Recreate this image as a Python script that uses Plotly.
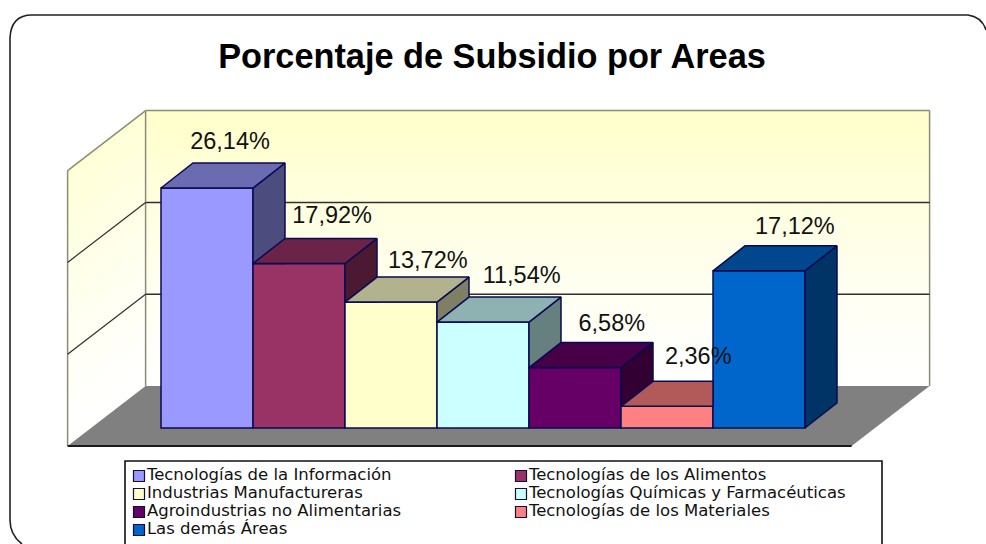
import plotly.graph_objects as go

# ---- data ----
categories = ["Tecnologías de la Información", "Tecnologías de los Alimentos",
              "Industrias Manufactureras", "Tecnologías Químicas y Farmacéuticas",
              "Agroindustrias no Alimentarias", "Tecnologías de los Materiales",
              "Las demás Áreas"]
values = [26.14, 17.92, 13.72, 11.54, 6.58, 2.36, 17.12]
labels = ["26,14%", "17,92%", "13,72%", "11,54%", "6,58%", "2,36%", "17,12%"]
colors = ["#9999FF", "#993366", "#FFFFCC", "#CCFFFF", "#660066", "#FF8080", "#0066CC"]
title_text = "Porcentaje de Subsidio por Areas"
grid_values = [10, 20, 30]

# ---- layout constants ----
W, H = 986, 544
PX_CAT, PX_PCT = 92.0, 9.18          # pixels per category / per percent
X0_PX, Y0_PX = 161.0, 428.0          # left edge of first bar, baseline
DX, DY = 32 / PX_CAT, 25 / PX_PCT    # bar depth in axis units
FLOOR_DX, FLOOR_DY = 78 / PX_CAT, 60 / PX_PCT  # full floor depth
FRONT_DX, FRONT_DY = 23.4 / PX_CAT, 18 / PX_PCT  # bars' set-back from the floor front
EDGE = "#0A0A50"
WALL_LINE = "#8C8C78"
GRID_LINE = "#303030"
label_nudge = [0.0, 0.11, 0.15, 0.17, 0.15, 0.09, 0.14]
label_lift = [4.9, 5.0, 4.4, 4.9, 4.6, 5.3, 4.7]


def px2x(p):
    return (p - X0_PX) / PX_CAT - 0.5


def py2y(p):
    return (Y0_PX - p) / PX_PCT


def shade(hex_color, f):
    r, g, b = (int(hex_color[i:i + 2], 16) for i in (1, 3, 5))
    return f"rgb({int(r * f)},{int(g * f)},{int(b * f)})"


def blend(t):
    """white (t=0) to pale yellow (t=1)"""
    return f"rgb(255,255,{int(255 - (255 - 204) * t)})"


# floor geometry
xl_front = -0.5 - 70 / PX_CAT - FRONT_DX
xr_front = xl_front + 784 / PX_CAT
y_front = -FRONT_DY
xl_back, xr_back = xl_front + FLOOR_DX, xr_front + FLOOR_DX
y_back = y_front + FLOOR_DY
top = max(grid_values)

shapes = []


def poly(pts):
    return "M" + "L".join(f"{x},{y}" for x, y in pts) + "Z"


# walls painted as thin gradient strips
N = 40
for k in range(N):
    a, b = top * k / N, top * (k + 1) / N
    t = ((k + 0.5) / N)
    shapes.append(dict(type="rect", layer="below", xref="x", yref="y",
                       x0=xl_back, x1=xr_back, y0=y_back + a, y1=y_back + b + 0.03,
                       fillcolor=blend(min(1, t ** 1.3 * 1.05)), line_width=0))
    shapes.append(dict(type="path", layer="below", xref="x", yref="y",
                       path=poly([(xl_front, y_front + a), (xl_back, y_back + a),
                                  (xl_back, y_back + b + 0.03), (xl_front, y_front + b + 0.03)]),
                       fillcolor=blend(min(1, t ** 1.3 * 0.8)), line_width=0))

# floor
shapes.append(dict(type="path", layer="below", xref="x", yref="y",
                   path=poly([(xl_front, y_front), (xr_front, y_front), (xr_back, y_back), (xl_back, y_back)]),
                   fillcolor="#808080", line_width=0))


def seg(x0, y0, x1, y1, color, width):
    shapes.append(dict(type="line", layer="below", xref="x", yref="y",
                       x0=x0, y0=y0, x1=x1, y1=y1, line=dict(color=color, width=width)))


# wall outlines and gridlines
seg(xl_front, y_front, xl_front, y_front + top, WALL_LINE, 1.5)
seg(xl_front, y_front + top, xl_back, y_back + top, WALL_LINE, 1.5)
seg(xl_back, y_back, xl_back, y_back + top, WALL_LINE, 1.5)
seg(xl_back, y_back + top, xr_back, y_back + top, WALL_LINE, 1.5)
seg(xr_back, y_back, xr_back, y_back + top, WALL_LINE, 1.5)
for g in grid_values[:-1]:
    seg(xl_back, y_back + g, xr_back, y_back + g, GRID_LINE, 1.5)
    seg(xl_front, y_front + g, xl_back, y_back + g, GRID_LINE, 1.2)
seg(xl_front, y_front, xr_front, y_front, "#1A1A1A", 2)

# outer rounded frame (open at the page edges, as in the picture)
frame = (f"M{22 / W},{1 - 544 / H} Q{10 / W},{1 - 535 / H} {10 / W},{1 - 520 / H} "
         f"L{10 / W},{1 - 38 / H} Q{11 / W},{1 - 15 / H} {32 / W},{1 - 15 / H} "
         f"L{968 / W},{1 - 15 / H} Q{982 / W},{1 - 17 / H} {986 / W},{1 - 30 / H}")
shapes.append(dict(type="path", xref="paper", yref="paper", path=frame, layer="below",
                   line=dict(color="#222222", width=1.6)))
# legend box
shapes.append(dict(type="rect", xref="paper", yref="paper", layer="below",
                   x0=125 / W, x1=882 / W, y0=1 - 546 / H, y1=1 - 461 / H,
                   fillcolor="white", line=dict(color="#111111", width=1.6)))

fig = go.Figure()

# front faces
for i, (c, v, col) in enumerate(zip(categories, values, colors)):
    fig.add_trace(go.Bar(x=[i], y=[v], width=1, name=c, showlegend=False,
                         marker=dict(color=col, line=dict(color=EDGE, width=1.5)),
                         hovertemplate=f"{c}: {labels[i]}<extra></extra>"))


def face(pts, color):
    fig.add_trace(go.Scatter(x=[p[0] for p in pts] + [pts[0][0]],
                             y=[p[1] for p in pts] + [pts[0][1]],
                             mode="lines", fill="toself", fillcolor=color,
                             line=dict(color=EDGE, width=1.5),
                             hoverinfo="skip", showlegend=False))


# top and side faces, clipped where the next bar's front hides them
for i, (v, col) in enumerate(zip(values, colors)):
    xl, xr = i - 0.5, i + 0.5
    vn = values[i + 1] if i + 1 < len(values) else 0.0
    if v > vn:
        pts = [(xr, v), (xr + DX, v + DY)]
        if vn >= DY:
            pts += [(xr + DX, vn), (xr, vn)]
        else:
            pts += [(xr + DX, DY), (xr + DX * vn / DY, vn), (xr, vn)]
        face(pts, shade(col, 0.5))
        face([(xl, v), (xr, v), (xr + DX, v + DY), (xl + DX, v + DY)], shade(col, 0.7))
    else:
        face([(xl, v), (xr, v), (xr, v + DY), (xl + DX, v + DY)], shade(col, 0.7))

# value labels
fig.add_trace(go.Scatter(x=[i + 0.25 + n for i, n in enumerate(label_nudge)],
                         y=[v + l for v, l in zip(values, label_lift)],
                         mode="text", text=labels, textposition="middle center",
                         textfont=dict(family="Liberation Sans", size=23.5, color="#111111"),
                         hoverinfo="skip", showlegend=False))

# legend entries (two columns, row by row)
col_px = [139, 521]
row_px = [476, 494, 512, 530]
for i, (c, col) in enumerate(zip(categories, colors)):
    fig.add_trace(go.Scatter(x=[px2x(col_px[i % 2])], y=[py2y(row_px[i // 2])],
                             mode="markers+text", text=[c], textposition="middle right",
                             marker=dict(symbol="square", size=11, color=col,
                                         line=dict(color="#111133", width=1.2)),
                             textfont=dict(family="DejaVu Sans", size=16.5, color="#111111"),
                             hoverinfo="skip", showlegend=False, cliponaxis=False))

fig.update_layout(
    width=W, height=H, autosize=False,
    margin=dict(l=0, r=0, t=0, b=0),
    paper_bgcolor="white", plot_bgcolor="rgba(0,0,0,0)",
    barmode="overlay", showlegend=False,
    title=dict(text=f"<b>{title_text}</b>", x=492 / W, y=1 - 56 / H,
               xanchor="center", yanchor="middle",
               font=dict(family="Liberation Sans", size=34.3, color="#000000")),
    xaxis=dict(range=[px2x(0), px2x(W)], visible=False, fixedrange=True),
    yaxis=dict(range=[py2y(H), py2y(0)], visible=False, fixedrange=True),
    shapes=shapes,
)
fig.write_html("out.html", config={"displayModeBar": False},
               post_script="document.body.style.margin='0';document.body.style.overflow='hidden';")
